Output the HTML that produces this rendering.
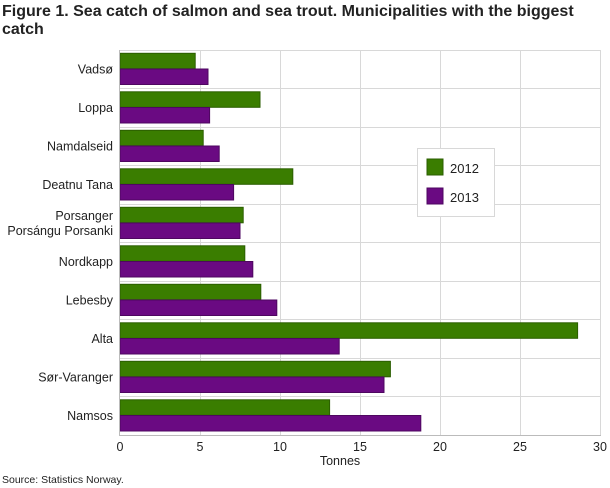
<!DOCTYPE html>
<html><head><meta charset="utf-8"><style>
body{margin:0;background:#fff;}
svg{display:block;font-family:"Liberation Sans",sans-serif;}
</style></head><body>
<svg width="610" height="488" viewBox="0 0 610 488">
<text x="2" y="16" font-size="16" font-weight="bold" fill="#222">Figure 1. Sea catch of salmon and sea trout. Municipalities with the biggest</text>
<text x="2" y="34" font-size="16" font-weight="bold" fill="#222">catch</text>
<g stroke="#d8d8d8" stroke-width="1">
<line x1="200.5" y1="50" x2="200.5" y2="435"/><line x1="280.5" y1="50" x2="280.5" y2="435"/>
<line x1="360.5" y1="50" x2="360.5" y2="435"/><line x1="440.5" y1="50" x2="440.5" y2="435"/>
<line x1="520.5" y1="50" x2="520.5" y2="435"/><line x1="600.5" y1="50" x2="600.5" y2="435"/>
<line x1="120" y1="50.5" x2="601" y2="50.5"/>
<line x1="120" y1="88.5" x2="601" y2="88.5"/><line x1="120" y1="127.5" x2="601" y2="127.5"/>
<line x1="120" y1="165.5" x2="601" y2="165.5"/><line x1="120" y1="204.5" x2="601" y2="204.5"/>
<line x1="120" y1="242.5" x2="601" y2="242.5"/><line x1="120" y1="281.5" x2="601" y2="281.5"/>
<line x1="120" y1="319.5" x2="601" y2="319.5"/><line x1="120" y1="358.5" x2="601" y2="358.5"/>
<line x1="120" y1="396.5" x2="601" y2="396.5"/>
</g>
<g id="bars" stroke-width="1"></g>
<line x1="119.5" y1="50" x2="119.5" y2="436" stroke="#bbb"/>
<line x1="119" y1="435.5" x2="601" y2="435.5" stroke="#bbb"/>
<g font-size="12.5" fill="#222" text-anchor="end" id="labels"></g>
<g font-size="12.5" fill="#222" text-anchor="middle">
<text x="120" y="451">0</text><text x="200" y="451">5</text><text x="280" y="451">10</text>
<text x="360" y="451">15</text><text x="440" y="451">20</text><text x="520" y="451">25</text><text x="600" y="451">30</text>
<text x="340" y="465">Tonnes</text>
</g>
<text x="2" y="483" font-size="10.5" fill="#222">Source: Statistics Norway.</text>
<rect x="417.5" y="148.5" width="77" height="68" fill="#fff" stroke="#d8d8d8"/>
<rect x="427" y="159" width="16" height="16" fill="#3a7d00" stroke="#2b5e00"/>
<rect x="427" y="188" width="16" height="16" fill="#6a0a82" stroke="#4e0760"/>
<text x="450" y="173" font-size="13" fill="#222">2012</text>
<text x="450" y="202" font-size="13" fill="#222">2013</text>
<script>
var d=[["Vadsø",4.7,5.5],["Loppa",8.75,5.6],["Namdalseid",5.2,6.2],["Deatnu Tana",10.8,7.1],["Porsanger|Porsángu Porsanki",7.7,7.5],["Nordkapp",7.8,8.3],["Lebesby",8.8,9.8],["Alta",28.6,13.7],["Sør-Varanger",16.9,16.5],["Namsos",13.1,18.8]];
var ns="http://www.w3.org/2000/svg",b=document.getElementById("bars"),l=document.getElementById("labels");
d.forEach(function(r,i){var top=50+i*38.5;
[[r[1],"#3a7d00","#2b5e00",top+3.3],[r[2],"#6a0a82","#4e0760",top+19]].forEach(function(s){
var e=document.createElementNS(ns,"rect");e.setAttribute("x",120);e.setAttribute("y",s[3]);e.setAttribute("width",s[0]*16);e.setAttribute("height",15.5);e.setAttribute("fill",s[1]);e.setAttribute("stroke",s[2]);b.appendChild(e);});
var parts=r[0].split("|");parts.forEach(function(p,j){var t=document.createElementNS(ns,"text");t.setAttribute("x",113);
t.setAttribute("y",parts.length==1?top+23.5:top+16+j*15);t.textContent=p;l.appendChild(t);});
});
</script>
</svg>
</body></html>
